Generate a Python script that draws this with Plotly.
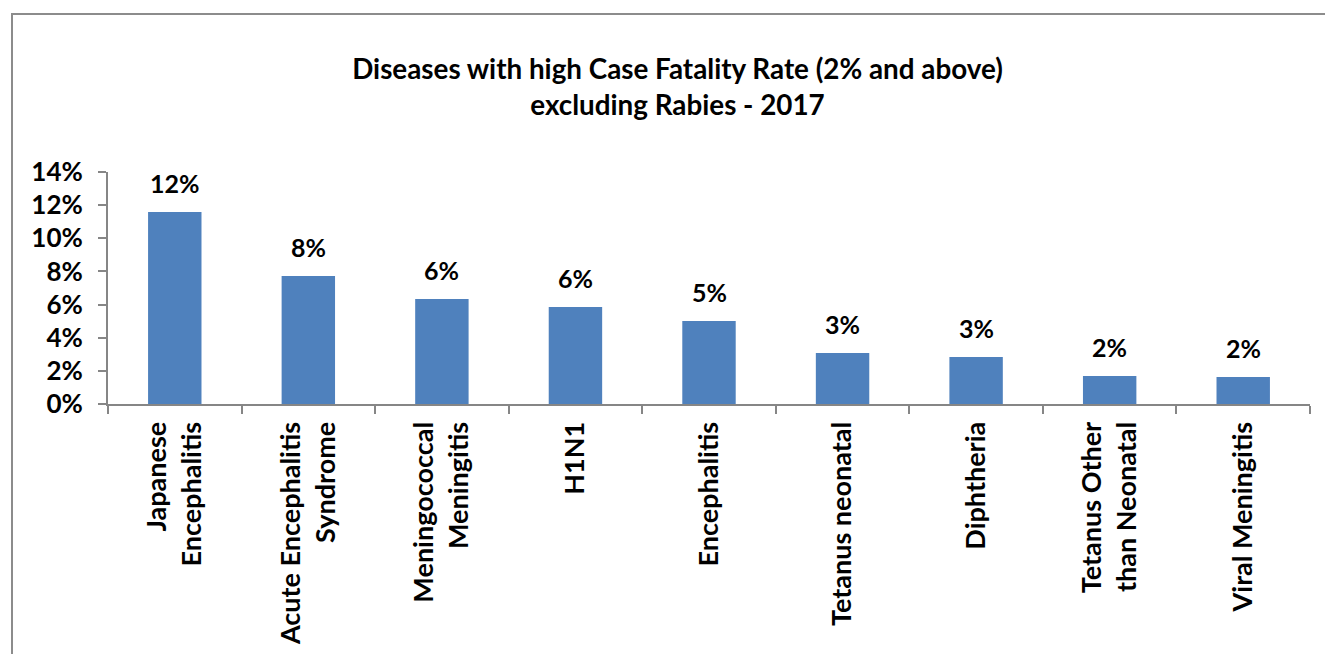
import plotly.graph_objects as go

categories = [
    "Japanese<br>Encephalitis",
    "Acute Encephalitis<br>Syndrome",
    "Meningococcal<br>Meningitis",
    "H1N1",
    "Encephalitis",
    "Tetanus neonatal",
    "Diphtheria",
    "Tetanus Other<br>than Neonatal",
    "Viral Meningitis",
]
values = [0.1159, 0.0772, 0.0634, 0.0585, 0.0501, 0.0308, 0.0284, 0.0169, 0.0163]
tick_vals = [0, 0.02, 0.04, 0.06, 0.08, 0.10, 0.12, 0.14]
tick_text = ["0%", "2%", "4%", "6%", "8%", "10%", "12%", "14%"]
title_text = "Diseases with high Case Fatality Rate (2% and above)<br>excluding Rabies - 2017"

FONT = "Lato, 'Liberation Sans', sans-serif"
# page body has an 8px margin, so the figure is drawn 8px smaller and offset
OFF = 8
W, H = 1333 - OFF, 654 - OFF
L = 108 - OFF
T = 172 - OFF
R = W - (1310 - OFF)
B = H - (404 - OFF)

fig = go.Figure()
fig.add_trace(go.Bar(
    x=categories, y=values,
    marker=dict(color="#4F81BD", line=dict(width=0)),
    width=0.4,
    hoverinfo="x+y",
))

for c, v in zip(categories, values):
    fig.add_annotation(
        x=c, y=v, text=f"<b>{round(v*100):.0f}%</b>",
        showarrow=False, yanchor="bottom", yshift=12,
        font=dict(family=FONT, size=25, color="black"),
    )

pw = W - L - R
ph = H - T - B
fig.add_shape(type="rect", xref="paper", yref="paper",
              x0=(12 - OFF - L) / pw, x1=(W + 20 - L) / pw,
              y0=-(H + 20 - T - ph) / ph, y1=(T - (14 - OFF)) / ph + 1,
              line=dict(color="#8C8C8C", width=2), fillcolor="rgba(0,0,0,0)",
              layer="below")

fig.update_layout(
    width=W, height=H,
    margin=dict(l=L, r=R, t=T, b=B, autoexpand=False),
    paper_bgcolor="white", plot_bgcolor="white",
    showlegend=False,
    title=dict(text=f"<b>{title_text}</b>", x=((353 + 1002) / 2 - OFF) / W, xanchor="center",
               y=1 - (79 - OFF) / H, yanchor="middle", yref="container",
               font=dict(family=FONT, size=27.8, color="black")),
    font=dict(family=FONT, color="black"),
)
fig.update_xaxes(
    tickangle=-90,
    tickvals=categories, ticktext=[f"<b>{c}</b>" for c in categories],
    tickfont=dict(family=FONT, size=27, color="black"),
    ticklabelstandoff=5,
    showline=True, linecolor="#868686", linewidth=2,
    ticks="outside", ticklen=8, tickcolor="#868686", tickwidth=2,
    tickson="boundaries",
    showgrid=False,
)
fig.update_yaxes(
    range=[0, 0.14],
    tickvals=tick_vals, ticktext=[f"<b>{t}</b>" for t in tick_text],
    tickfont=dict(family=FONT, size=26, color="black"),
    ticklabelstandoff=10,
    showline=True, linecolor="#868686", linewidth=2,
    ticks="outside", ticklen=8, tickcolor="#868686", tickwidth=2,
    showgrid=False, zeroline=False,
)

fig.write_html("out.html")
